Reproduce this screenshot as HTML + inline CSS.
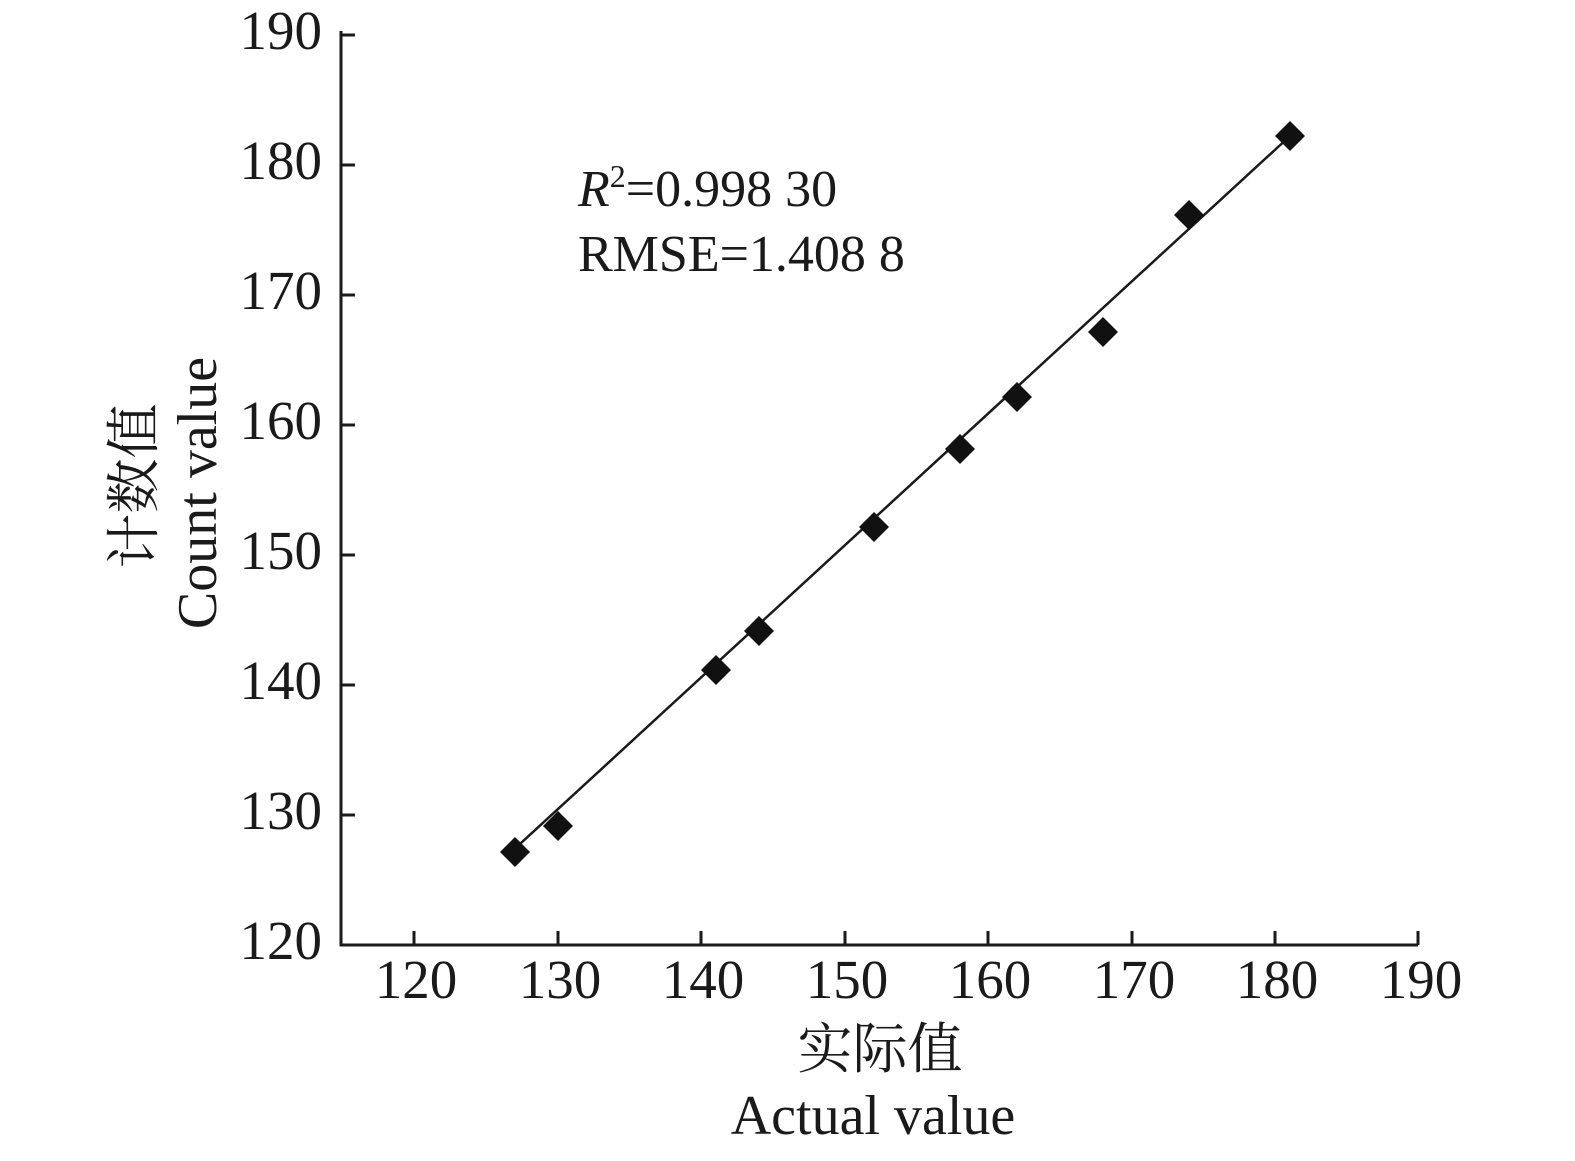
<!DOCTYPE html><html><head><style>body{margin:0;background:#fff}</style></head><body>
<svg width="1575" height="1156" xmlns="http://www.w3.org/2000/svg" font-family="'Liberation Serif','Noto Serif CJK SC',serif" fill="#1a1a1a">
<g stroke="#1a1a1a" stroke-width="3" fill="none">
<path d="M341 31V945H1418"/>
<path d="M341 35h14M341 165h14M341 295h14M341 425h14M341 555h14M341 685h14M341 815h14"/>
<path d="M414 945v-14M558 945v-14M701 945v-14M845 945v-14M988 945v-14M1132 945v-14M1275 945v-14M1418 945v-14"/>
</g>
<line x1="508" y1="855" x2="1290" y2="136" stroke="#1a1a1a" stroke-width="2.5"/>
<g font-size="55" text-anchor="end">
<text x="322" y="49">190</text><text x="322" y="179">180</text><text x="322" y="309">170</text><text x="322" y="439">160</text><text x="322" y="569">150</text><text x="322" y="699">140</text><text x="322" y="829">130</text><text x="322" y="959">120</text>
</g>
<g font-size="55" text-anchor="middle">
<text x="416" y="998">120</text><text x="560" y="998">130</text><text x="703" y="998">140</text><text x="847" y="998">150</text><text x="990" y="998">160</text><text x="1134" y="998">170</text><text x="1277" y="998">180</text><text x="1421" y="998">190</text>
<text x="880" y="1068" font-family="'Noto Serif CJK SC','Noto Sans CJK SC',serif" font-size="55">实际值</text>
<text x="873" y="1134" font-size="56">Actual value</text>
</g>
<text transform="translate(153,486) rotate(-90)" text-anchor="middle" font-family="'Noto Serif CJK SC','Noto Sans CJK SC',serif" font-size="55">计数值</text>
<text transform="translate(216,493) rotate(-90)" text-anchor="middle" font-size="56">Count value</text>
<text x="578" y="206" font-size="52"><tspan font-style="italic">R</tspan><tspan font-size="32" dy="-19">2</tspan><tspan dy="19">=0.998 30</tspan></text>
<text x="578" y="271" font-size="52">RMSE=1.408 8</text>
<g fill="#111">
<path d="M0 -15L15 0L0 15L-15 0Z" transform="translate(515,852)"/>
<path d="M0 -15L15 0L0 15L-15 0Z" transform="translate(558,826)"/>
<path d="M0 -15L15 0L0 15L-15 0Z" transform="translate(716,670)"/>
<path d="M0 -15L15 0L0 15L-15 0Z" transform="translate(759,631)"/>
<path d="M0 -15L15 0L0 15L-15 0Z" transform="translate(874,527)"/>
<path d="M0 -15L15 0L0 15L-15 0Z" transform="translate(960,449)"/>
<path d="M0 -15L15 0L0 15L-15 0Z" transform="translate(1017,397)"/>
<path d="M0 -15L15 0L0 15L-15 0Z" transform="translate(1103,332)"/>
<path d="M0 -15L15 0L0 15L-15 0Z" transform="translate(1189,215)"/>
<path d="M0 -15L15 0L0 15L-15 0Z" transform="translate(1290,136)"/>
</g>
</svg>
</body></html>
